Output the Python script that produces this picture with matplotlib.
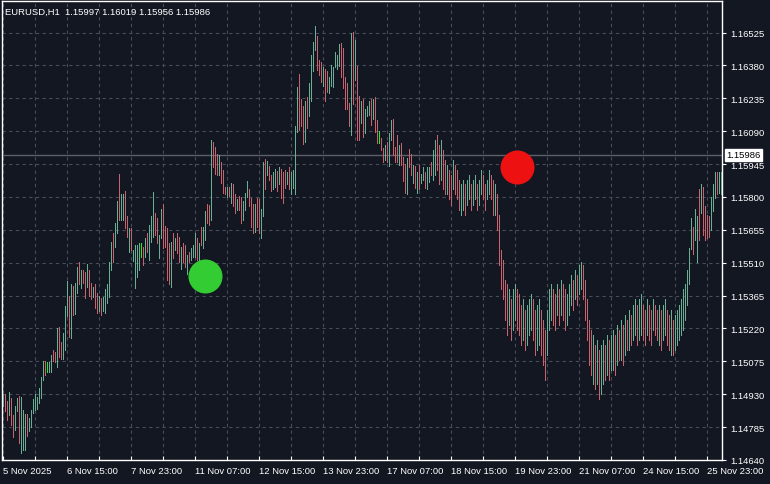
import matplotlib
matplotlib.use("Agg")
import matplotlib.pyplot as plt
import matplotlib.transforms as mtransforms
import numpy as np

plt.rcParams['font.family'] = ['Liberation Sans', 'DejaVu Sans']

# ---------------- data ----------------
high = [
1.14929,1.14929,1.14898,1.14942,1.14915,1.14840,1.14880,1.14915,1.14924,1.14920,
1.14862,1.14845,1.14845,1.14827,1.14862,1.14907,1.14929,1.14920,1.14959,1.15008,
1.15078,1.15078,1.15070,1.15070,1.15101,1.15127,1.15118,1.15224,1.15228,1.15162,
1.15202,1.15317,1.15431,1.15365,1.15418,1.15409,1.15422,1.15493,1.15515,1.15480,
1.15480,1.15467,1.15506,1.15480,1.15422,1.15405,1.15414,1.15378,1.15365,1.15356,
1.15361,1.15392,1.15414,1.15511,1.15603,1.15643,1.15687,1.15780,1.15903,1.15815,
1.15815,1.15828,1.15718,1.15661,1.15661,1.15568,1.15590,1.15590,1.15599,1.15599,
1.15581,1.15621,1.15639,1.15678,1.15714,1.15824,1.15731,1.15709,1.15634,1.15749,
1.15771,1.15674,1.15661,1.15599,1.15603,1.15639,1.15621,1.15639,1.15625,1.15581,
1.15599,1.15586,1.15542,1.15559,1.15577,1.15586,1.15643,1.15621,1.15599,1.15669,
1.15669,1.15740,1.15771,1.15766,1.16053,1.16044,1.16022,1.15991,1.15983,1.15952,
1.15921,1.15846,1.15846,1.15846,1.15863,1.15859,1.15815,1.15793,1.15806,1.15802,
1.15780,1.15819,1.15872,1.15837,1.15797,1.15771,1.15771,1.15797,1.15793,1.15749,
1.15952,1.15969,1.15960,1.15938,1.15899,1.15908,1.15925,1.15916,1.15934,1.15925,
1.15908,1.15921,1.15912,1.15930,1.15912,1.15921,1.16115,1.16287,1.16344,1.16230,
1.16199,1.16225,1.16243,1.16304,1.16424,1.16485,1.16556,1.16512,1.16406,1.16393,
1.16375,1.16366,1.16357,1.16331,1.16384,1.16371,1.16441,1.16424,1.16476,1.16481,
1.16459,1.16331,1.16304,1.16216,1.16525,1.16529,1.16494,1.16379,1.16247,1.16221,
1.16234,1.16190,1.16199,1.16225,1.16234,1.16234,1.16243,1.16141,1.16093,1.16058,
1.16018,1.16027,1.16044,1.16080,1.16141,1.16146,1.16022,1.16075,1.16031,1.16040,
1.15978,1.15947,1.15974,1.16013,1.15991,1.15943,1.15938,1.15912,1.15943,1.15903,
1.15934,1.15908,1.15930,1.15930,1.15952,1.16009,1.16053,1.16075,1.16031,1.16053,
1.16009,1.15965,1.15943,1.15921,1.15899,1.15965,1.15943,1.15921,1.15877,1.15855,
1.15877,1.15855,1.15877,1.15899,1.15855,1.15877,1.15899,1.15855,1.15877,1.15921,
1.15899,1.15855,1.15877,1.15921,1.15899,1.15877,1.15855,1.15811,1.15722,1.15568,
1.15524,1.15436,1.15414,1.15392,1.15348,1.15392,1.15414,1.15392,1.15370,1.15325,
1.15348,1.15303,1.15325,1.15348,1.15370,1.15348,1.15303,1.15325,1.15348,1.15303,
1.15259,1.15215,1.15303,1.15392,1.15414,1.15392,1.15370,1.15414,1.15392,1.15436,
1.15414,1.15392,1.15370,1.15414,1.15458,1.15436,1.15480,1.15458,1.15502,1.15515,
1.15502,1.15436,1.15348,1.15259,1.15215,1.15193,1.15149,1.15171,1.15127,1.15149,
1.15171,1.15149,1.15193,1.15171,1.15193,1.15215,1.15193,1.15237,1.15215,1.15259,
1.15237,1.15281,1.15259,1.15303,1.15281,1.15325,1.15348,1.15325,1.15348,1.15370,
1.15325,1.15303,1.15348,1.15325,1.15303,1.15348,1.15325,1.15303,1.15325,1.15303,
1.15325,1.15348,1.15303,1.15281,1.15303,1.15259,1.15281,1.15303,1.15325,1.15348,
1.15392,1.15414,1.15480,1.15577,1.15709,1.15669,1.15749,1.15714,1.15833,1.15855,
1.15846,1.15758,1.15722,1.15714,1.15802,1.15855,1.15908,1.15908,1.15908,1.15908,
]

low = [
1.14880,1.14854,1.14818,1.14840,1.14796,1.14743,1.14774,1.14854,1.14717,1.14673,
1.14682,1.14682,1.14748,1.14770,1.14787,1.14849,1.14862,1.14867,1.14893,1.14915,
1.14995,1.15017,1.15026,1.15026,1.15026,1.15078,1.15070,1.15048,1.15096,1.15087,
1.15087,1.15127,1.15277,1.15184,1.15176,1.15281,1.15286,1.15378,1.15414,1.15400,
1.15422,1.15356,1.15405,1.15365,1.15348,1.15361,1.15312,1.15290,1.15295,1.15281,
1.15295,1.15290,1.15334,1.15361,1.15480,1.15511,1.15581,1.15643,1.15700,1.15700,
1.15700,1.15661,1.15625,1.15559,1.15568,1.15519,1.15400,1.15449,1.15480,1.15537,
1.15502,1.15537,1.15559,1.15524,1.15603,1.15625,1.15634,1.15599,1.15533,1.15621,
1.15577,1.15581,1.15436,1.15418,1.15405,1.15533,1.15568,1.15555,1.15515,1.15484,
1.15511,1.15493,1.15462,1.15511,1.15524,1.15537,1.15537,1.15524,1.15511,1.15590,
1.15577,1.15612,1.15687,1.15678,1.15700,1.15934,1.15903,1.15899,1.15899,1.15863,
1.15819,1.15811,1.15802,1.15806,1.15775,1.15758,1.15731,1.15744,1.15744,1.15687,
1.15700,1.15744,1.15802,1.15758,1.15669,1.15643,1.15647,1.15669,1.15643,1.15621,
1.15714,1.15837,1.15899,1.15877,1.15828,1.15837,1.15846,1.15828,1.15855,1.15797,
1.15775,1.15841,1.15855,1.15833,1.15811,1.15841,1.15811,1.16088,1.16097,1.16115,
1.16035,1.16044,1.16106,1.16155,1.16221,1.16357,1.16450,1.16362,1.16340,1.16309,
1.16291,1.16221,1.16265,1.16260,1.16291,1.16287,1.16371,1.16366,1.16379,1.16327,
1.16282,1.16190,1.16190,1.16115,1.16075,1.16208,1.16318,1.16053,1.16049,1.16128,
1.16066,1.16084,1.16155,1.16163,1.16119,1.16146,1.16088,1.16040,1.16040,1.16005,
1.15952,1.15965,1.15956,1.15938,1.16053,1.15987,1.15956,1.15952,1.15943,1.15943,
1.15872,1.15819,1.15811,1.15930,1.15899,1.15863,1.15841,1.15819,1.15833,1.15863,
1.15877,1.15841,1.15833,1.15868,1.15899,1.15877,1.15899,1.15921,1.15855,1.15877,
1.15833,1.15811,1.15811,1.15789,1.15766,1.15833,1.15811,1.15789,1.15744,1.15722,
1.15744,1.15722,1.15766,1.15789,1.15744,1.15766,1.15789,1.15744,1.15766,1.15811,
1.15789,1.15744,1.15789,1.15811,1.15789,1.15722,1.15722,1.15656,1.15502,1.15392,
1.15348,1.15259,1.15193,1.15237,1.15171,1.15215,1.15259,1.15215,1.15193,1.15149,
1.15171,1.15127,1.15149,1.15193,1.15215,1.15171,1.15105,1.15127,1.15149,1.15105,
1.15061,1.14995,1.15105,1.15215,1.15259,1.15237,1.15215,1.15281,1.15237,1.15281,
1.15259,1.15215,1.15237,1.15281,1.15325,1.15303,1.15348,1.15325,1.15370,1.15392,
1.15348,1.15259,1.15171,1.15061,1.15017,1.14973,1.14951,1.14973,1.14907,1.14929,
1.14973,1.14995,1.15017,1.14995,1.15039,1.15039,1.15017,1.15061,1.15083,1.15083,
1.15061,1.15105,1.15127,1.15127,1.15149,1.15171,1.15193,1.15149,1.15171,1.15193,
1.15171,1.15149,1.15193,1.15171,1.15149,1.15215,1.15193,1.15171,1.15149,1.15127,
1.15171,1.15193,1.15149,1.15127,1.15105,1.15105,1.15127,1.15149,1.15171,1.15193,
1.15215,1.15259,1.15325,1.15414,1.15572,1.15550,1.15608,1.15511,1.15612,1.15731,
1.15634,1.15612,1.15621,1.15625,1.15656,1.15736,1.15797,1.15815,1.15819,1.15811,
]

# G = up bar, R = down bar, B = doji (bright green)
direction = list(
    "GRRGRRGGRG" "GGRGGGGGGG" "GRBGGRRGRR" "GGGRGRGGRG" "RRGRRGRRGR"
    "GGGGGRGGRG" "GRRGRGGGGB" "RGRGGGRRGG" "RRRRGRGRRG" "RRGRGGGRGR"
    "GGRRGRRRGR" "RRGRGRRGRR" "GGGRRRGRRG" "GRGRRGGRGR" "RRGRGGGGRR"
    "RGRGGGGRRR" "GRRGGGGGGR" "RRRRGRGRRG" "RGGGRGRRBR" "RGRGGRRRGR"
    "RRGRRGRGRG" "GRGGRGGRRG" "RRGRRGRRRG" "GRGGRGGRGG" "RRGGRRGRRR"
    "RRRGRGGRRR" "GRGGGRRGGR" "RRGGGRRGRG" "RRGGGRGRGG" "RRRRRGRGRG"
    "GRGRGGRGRG" "RGRGRGGRGG" "RRGRRGRRGR" "GGRRGRGGGG" "GGGGGRGGRG"
    "RRRRGGGRGG")

xtick_bars = [0, 32, 64, 96, 128, 160, 192, 224, 256, 288, 320, 352]
xtick_labels = ["5 Nov 2025", "6 Nov 15:00", "7 Nov 23:00", "11 Nov 07:00",
                "12 Nov 15:00", "13 Nov 23:00", "17 Nov 07:00", "18 Nov 15:00",
                "19 Nov 23:00", "21 Nov 07:00", "24 Nov 15:00", "25 Nov 23:00"]
ytick_values = [1.14640, 1.14785, 1.14930, 1.15075, 1.15220, 1.15365, 1.15510,
                1.15655, 1.15800, 1.15945, 1.16090, 1.16235, 1.16380, 1.16525]
current_price = 1.15986
header = "EURUSD,H1  1.15997 1.16019 1.15956 1.15986"
buy_signal = (101, 1.15453)
sell_signal = (257, 1.15930)

# ---------------- styling ----------------
BG = "#131722"
GRID = "#484c58"
UP = "#6aae93"
DOWN = "#c8636d"
DOJI = "#22ee22"
cmap = {"G": UP, "R": DOWN, "B": DOJI}
FS = 6.8

W, H = 770, 485
fig = plt.figure(figsize=(W / 100, H / 100), dpi=100, facecolor=BG)
ax = fig.add_axes([2 / W, 1 - 461 / H, 720 / W, 459 / H])
ax.set_facecolor(BG)

n = len(high)
x = np.arange(n)
ax.vlines(x, low, high, colors=[cmap[d] for d in direction], linewidth=0.72,
          antialiased=False, zorder=3)

# axes / ticks
ax.yaxis.tick_right()
ax.set_yticks(ytick_values)
ax.set_yticklabels([f"{v:.5f}" for v in ytick_values])
ax.set_xticks(xtick_bars)
ax.set_xticklabels(xtick_labels, ha="left")
ax.set_xticks([b + 16 for b in xtick_bars if b + 16 < n], minor=True)
ax.tick_params(axis="both", which="both", colors="white", labelsize=FS,
               length=3, width=0.8, direction="out")
ax.tick_params(axis="x", which="both", direction="in", pad=4)
ax.tick_params(axis="y", pad=3)

ax.set_xlim(-0.5, n - 0.5)
ax.set_ylim(1.14640, 1.14640 + 459 * 0.0000441)

ax.grid(True, which="both", color=GRID, linestyle=(0, (3, 3)), linewidth=0.8, zorder=1)
for s in ax.spines.values():
    s.set_color("white")
    s.set_linewidth(1.0)

# current price line and label
ax.axhline(current_price, color="#5d606a", linewidth=1.0, zorder=2)
trans = mtransforms.blended_transform_factory(ax.transAxes, ax.transData)
ax.text(1.006, current_price, f"{current_price:.5f}", transform=trans,
        color="black", fontsize=FS, va="center", ha="left", zorder=6,
        bbox=dict(boxstyle="square,pad=0.15", facecolor="white", edgecolor="white"))

# signals
ax.scatter([buy_signal[0]], [buy_signal[1]], s=600, color="#33cc33", zorder=5, linewidths=0)
ax.scatter([sell_signal[0]], [sell_signal[1]], s=600, color="#ee1111", zorder=5, linewidths=0)

ax.set_xlim(-0.5, n - 0.5)

fig.text(5 / W, 1 - 12 / H, header, color="white", fontsize=FS, va="center", ha="left")

fig.savefig("out.png", dpi=100, facecolor=BG)
